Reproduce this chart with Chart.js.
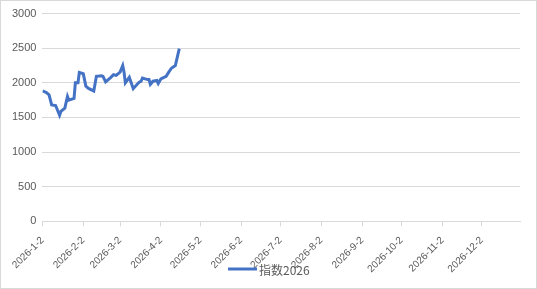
<!DOCTYPE html>
<html>
<head>
<meta charset="utf-8">
<script src="https://cdn.jsdelivr.net/npm/chart.js@4"></script>
<style>
  html, body { margin: 0; padding: 0; background: #fff; }
  #wrap { position: relative; width: 535px; height: 287px; border: 1px solid #d9d9d9; }
</style>
</head>
<body>
<div id="wrap"><canvas id="c"></canvas></div>
<script>
// index values by trading date
const dates = [
  '2026-01-02', '2026-01-05', '2026-01-07', '2026-01-09', '2026-01-12', '2026-01-15',
  '2026-01-16', '2026-01-19', '2026-01-21', '2026-01-22', '2026-01-26', '2026-01-27',
  '2026-01-29', '2026-01-30', '2026-02-02', '2026-02-04', '2026-02-06', '2026-02-10',
  '2026-02-12', '2026-02-16', '2026-02-17', '2026-02-19', '2026-02-23', '2026-02-25',
  '2026-02-27', '2026-03-02', '2026-03-04', '2026-03-05', '2026-03-06', '2026-03-09',
  '2026-03-12', '2026-03-16', '2026-03-17', '2026-03-18', '2026-03-19', '2026-03-23',
  '2026-03-24', '2026-03-25', '2026-03-27', '2026-03-30', '2026-03-31', '2026-04-02',
  '2026-04-06', '2026-04-08', '2026-04-10', '2026-04-13', '2026-04-16'
]
const values = [
  1883, 1859, 1826, 1680, 1672, 1531,
  1587, 1634, 1803, 1751, 1775, 2000,
  2000, 2150, 2131, 1953, 1920, 1883,
  2094, 2103, 2094, 2014, 2080, 2117,
  2108, 2155, 2249, 2155, 2000, 2080,
  1915, 2000, 2014, 2023, 2070, 2047,
  2047, 1977, 2023, 2033, 1990, 2056,
  2094, 2155, 2211, 2249, 2493
]
const seriesName = '指数2026'
const tickDates = [
  '2026-01-02', '2026-02-02', '2026-03-02', '2026-04-02', '2026-05-02', '2026-06-02',
  '2026-07-02', '2026-08-02', '2026-09-02', '2026-10-02', '2026-11-02', '2026-12-02'
]
const tickLabels = [
  '2026-1-2', '2026-2-2', '2026-3-2', '2026-4-2', '2026-5-2', '2026-6-2',
  '2026-7-2', '2026-8-2', '2026-9-2', '2026-10-2', '2026-11-2', '2026-12-2'
]
const yTicks = [0, 500, 1000, 1500, 2000, 2500, 3000]

const base = Date.UTC(2026, 0, 2)
function dayOf(s) {
  const p = s.split('-').map(Number)
  return Math.round((Date.UTC(p[0], p[1] - 1, p[2]) - base) / 86400000)
}
const tickDays = tickDates.map(dayOf)
const points = dates.map((d, i) => ({ x: dayOf(d), y: values[i] }))

const font = { family: '"Liberation Sans", Arial, "Noto Sans CJK SC", sans-serif', size: 10 }
const grey = '#595959'

// legend drawn below, overlapping the date labels like the original
const legendLine = {
  id: 'legendLine',
  afterDraw(chart) {
    const ctx = chart.ctx
    const ds = chart.data.datasets[0]
    ctx.save()
    ctx.strokeStyle = ds.borderColor
    ctx.lineWidth = 3
    ctx.beginPath()
    ctx.moveTo(227, 268)
    ctx.lineTo(256, 268)
    ctx.stroke()
    ctx.fillStyle = grey
    ctx.font = '12px "Noto Sans CJK SC", "Liberation Sans", sans-serif'
    ctx.textBaseline = 'middle'
    ctx.fillText(ds.label, 258, 269)
    ctx.restore()
  }
}

new Chart(document.getElementById('c'), {
  type: 'line',
  data: {
    datasets: [{
      label: seriesName,
      data: points,
      borderColor: '#4472C4',
      backgroundColor: '#4472C4',
      borderWidth: 3,
      pointRadius: 0,
      tension: 0
    }]
  },
  options: {
    responsive: true,
    maintainAspectRatio: false,
    animation: false,
    layout: { padding: { left: 5, right: 16, top: -3, bottom: 5 } },
    plugins: { legend: { display: false }, tooltip: { enabled: false } },
    scales: {
      x: {
        type: 'linear',
        min: 0,
        max: 363,
        afterBuildTicks(axis) { axis.ticks = tickDays.map(v => ({ value: v })) },
        ticks: {
          autoSkip: false,
          minRotation: 45,
          maxRotation: 45,
          padding: 8,
          color: grey,
          font: font,
          callback(v) { const i = tickDays.indexOf(v); return i >= 0 ? tickLabels[i] : '' }
        },
        grid: { drawOnChartArea: false, drawTicks: true, tickLength: 5, color: '#d9d9d9' },
        border: { color: '#d9d9d9' }
      },
      y: {
        min: 0,
        max: 3000,
        afterBuildTicks(axis) { axis.ticks = yTicks.map(v => ({ value: v })) },
        ticks: { color: grey, font: { family: font.family, size: 11 }, padding: 6, callback: v => String(v) },
        grid: { color: '#d9d9d9', drawTicks: false },
        border: { display: false }
      }
    }
  },
  plugins: [legendLine]
})
</script>
</body>
</html>
